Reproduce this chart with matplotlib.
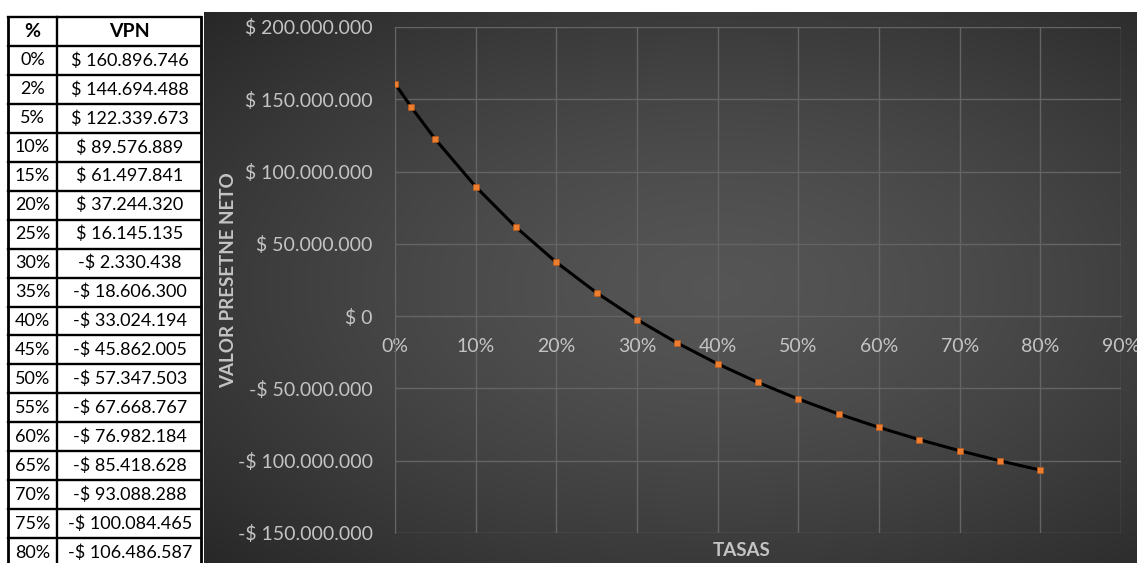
import numpy as np
import matplotlib
matplotlib.use("Agg")
import matplotlib.pyplot as plt
from matplotlib.ticker import FuncFormatter, MultipleLocator

tasas = [0.00, 0.02, 0.05, 0.10, 0.15, 0.20, 0.25, 0.30, 0.35,
         0.40, 0.45, 0.50, 0.55, 0.60, 0.65, 0.70, 0.75, 0.80]
vpn = [160896746, 144694488, 122339673, 89576889, 61497841, 37244320,
       16145135, -2330438, -18606300, -33024194, -45862005, -57347503,
       -67668767, -76982184, -85418628, -93088288, -100084465, -106486587]

header = ["%", "VPN"]
ylabel = "VALOR PRESETNE NETO"
xlabel = "TASAS"

TXT = "#c4c4c4"
GRID = "#646464"
FONT = "Lato"


def money(v, pos=None):
    s = f"{abs(int(round(v))):,}".replace(",", ".")
    return ("-$ " if v < 0 else "$ ") + s


W, H = 1137, 563
fig = plt.figure(figsize=(W / 100, H / 100), dpi=100)
fig.patch.set_facecolor("white")

# ---- table on the left (pixel coordinates) ----
tab = fig.add_axes([0, 0, 1, 1])
tab.set_xlim(0, W)
tab.set_ylim(H, 0)
tab.axis("off")

x0, xm, x1 = 8, 57, 201
y0, rh = 17, 28.95
n_rows = len(tasas) + 1
y_end = y0 + rh * n_rows
for i in range(n_rows + 1):
    y = y0 + rh * i
    tab.plot([x0, x1], [y, y], color="black", lw=1.7, solid_capstyle="projecting")
for x in (x0, xm, x1):
    tab.plot([x, x], [y0, y_end], color="black", lw=2.0 if x != xm else 1.7)

tab.text((x0 + xm) / 2, y0 + rh / 2, header[0], ha="center", va="center",
         fontsize=14, fontweight="bold", family=FONT)
tab.text((xm + x1) / 2, y0 + rh / 2, header[1], ha="center", va="center",
         fontsize=14, fontweight="bold", family=FONT)
for i, (t, v) in enumerate(zip(tasas, vpn)):
    yc = y0 + rh * (i + 1.5)
    tab.text((x0 + xm) / 2, yc, f"{t * 100:.0f}%", ha="center", va="center",
             fontsize=13, family=FONT)
    tab.text((xm + x1) / 2 + 1, yc, money(v), ha="center", va="center",
             fontsize=13, family=FONT)

# ---- dark chart area with radial gradient ----
cx0, cy_top = 204, 12
bg = fig.add_axes([cx0 / W, 0, (W - cx0) / W, (H - cy_top) / H])
bg.axis("off")
gx = np.linspace(-1, 1, 400)
gy = np.linspace(-1, 1, 240)
XX, YY = np.meshgrid(gx, gy)
r = np.sqrt(((XX - 0.1) / 1.05) ** 2 + ((YY + 0.0) / 1.0) ** 2)
r = np.clip(r / 1.45, 0, 1)
shade = 0.335 - 0.18 * r ** 1.4
img = np.dstack([shade, shade, shade])
bg.imshow(img, aspect="auto", extent=[0, 1, 0, 1], interpolation="bilinear")
bg.set_xlim(0, 1)
bg.set_ylim(0, 1)

# ---- main plot ----
left, right, top, bottom = 395, 1121, 27, 533
ax = fig.add_axes([left / W, (H - bottom) / H, (right - left) / W, (bottom - top) / H])
ax.patch.set_alpha(0)
ax.set_xlim(0, 0.9)
ax.set_ylim(-150e6, 200e6)
ax.xaxis.set_major_locator(MultipleLocator(0.1))
ax.yaxis.set_major_locator(MultipleLocator(50e6))
ax.xaxis.set_major_formatter(FuncFormatter(lambda v, p: f"{v * 100:.0f}%"))
ax.yaxis.set_major_formatter(FuncFormatter(money))
for s in ("top", "right"):
    ax.spines[s].set_visible(False)
ax.spines["left"].set_color(GRID)
ax.spines["bottom"].set_color(GRID)
ax.spines["bottom"].set_position(("data", 0))
ax.tick_params(length=0, labelcolor=TXT, labelsize=14)
ax.tick_params(axis="x", pad=16)
ax.tick_params(axis="y", pad=16)
ax.grid(True, color=GRID, lw=1)
ax.set_axisbelow(True)
for lab in ax.get_xticklabels() + ax.get_yticklabels():
    lab.set_family(FONT)

ax.plot(tasas, vpn, color="black", lw=2.2, zorder=3)
ax.plot(tasas, vpn, ls="none", marker="s", ms=4, color="#ed7d31",
        mec="#c55a11", mew=0.4, zorder=4)

fig.text(229 / W, 1 - 280 / H, ylabel, rotation=90, ha="center", va="center",
         color=TXT, fontsize=13.5, fontweight="bold", family=FONT)
fig.text(742 / W, 1 - 550 / H, xlabel, ha="center", va="center",
         color=TXT, fontsize=13.5, fontweight="bold", family=FONT)

fig.savefig("out.png", dpi=100)
